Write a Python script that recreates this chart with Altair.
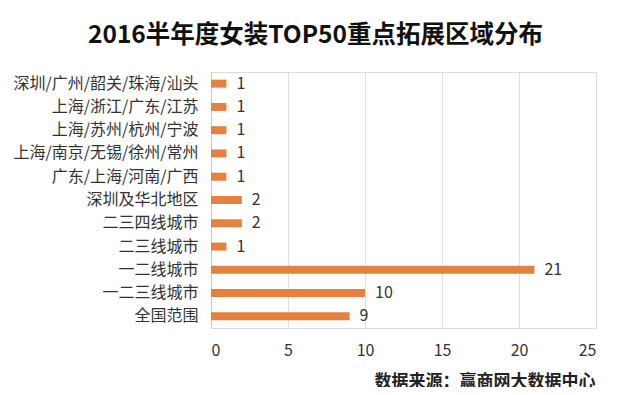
import altair as alt
import pandas as pd

categories = [
    "深圳/广州/韶关/珠海/汕头",
    "上海/浙江/广东/江苏",
    "上海/苏州/杭州/宁波",
    "上海/南京/无锡/徐州/常州",
    "广东/上海/河南/广西",
    "深圳及华北地区",
    "二三四线城市",
    "二三线城市",
    "一二线城市",
    "一二三线城市",
    "全国范围",
]
values = [1, 1, 1, 1, 1, 2, 2, 1, 21, 10, 9]
x_ticks = [0, 5, 10, 15, 20, 25]

title_text = "2016半年度女装TOP50重点拓展区域分布"
source_text = "数据来源：赢商网大数据中心"

df = pd.DataFrame({"区域": categories, "数量": values})

FONT = "Noto Sans CJK SC"
BAR_COLOR = "#E5803E"

y_enc = alt.Y(
    "区域:N",
    sort=categories,
    title=None,
    scale=alt.Scale(paddingInner=0.66, paddingOuter=0.33),
    axis=alt.Axis(
        labelFont=FONT,
        labelFontSize=16,
        labelColor="#333333",
        labelPadding=13,
        ticks=False,
        domain=True,
        domainColor="#c8c8c8",
        grid=False,
        labelLimit=300,
    ),
)

x_enc = alt.X(
    "数量:Q",
    scale=alt.Scale(domain=[0, 25], nice=False),
    title=source_text,
    axis=alt.Axis(
        values=x_ticks,
        grid=True,
        gridColor="#dedede",
        domain=False,
        ticks=False,
        labelFont=FONT,
        labelFontSize=16,
        labelColor="#333333",
        labelPadding=14,
        titleFont=FONT,
        titleFontSize=17,
        titleFontWeight="bold",
        titleColor="#222222",
        titleX=384,
        titleY=53,
        titleAlign="right",
        titleBaseline="middle",
        titleLimit=600,
    ),
)

bars = alt.Chart(df).mark_bar(size=8, color=BAR_COLOR).encode(x=x_enc, y=y_enc)

labels = alt.Chart(df).mark_text(
    align="left", baseline="middle", dx=10, fontSize=16, font=FONT, color="#333333"
).encode(
    x=alt.X("数量:Q"),
    y=alt.Y("区域:N", sort=categories),
    text="数量:Q",
)

chart = (
    alt.layer(bars, labels)
    .properties(
        width=385,
        height=256,
        autosize=alt.AutoSizeParams(type="none"),
        padding={"left": 203, "top": 64, "right": 14, "bottom": 59},
        title=alt.TitleParams(
            text=title_text,
            font=FONT,
            fontSize=24.5,
            fontWeight="bold",
            color="#111111",
            anchor="middle",
            dx=-88,
            offset=24,
        ),
    )
    .configure_view(stroke=None)
    .configure(background="white")
)

chart.save("out.html", embed_options={"renderer": "svg", "actions": False})
